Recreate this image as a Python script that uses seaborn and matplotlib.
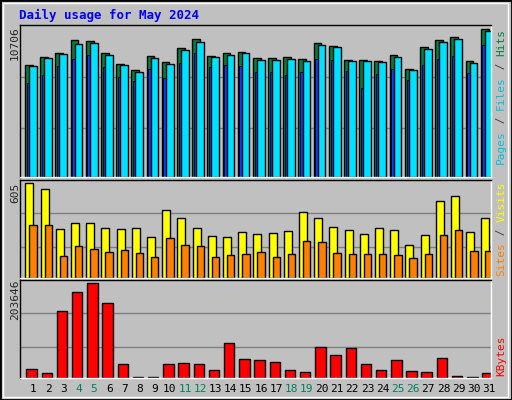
import numpy as np
import matplotlib
matplotlib.use("Agg")
import matplotlib.pyplot as plt
import seaborn as sns
import pandas as pd

days = list(range(1, 32))
weekend = [4, 5, 11, 12, 18, 19, 25, 26]
hits = [8090,8671,8986,9906,9833,8961,8162,7726,8743,8307,9325,9979,8743,8961,9034,8598,8598,8671,8525,9688,9470,8453,8453,8380,8816,7799,9397,9906,10124,8380,10706]
files = [8017,8598,8889,9615,9688,8816,8090,7581,8598,8162,9179,9761,8671,8816,8961,8453,8453,8525,8380,9543,9397,8380,8380,8307,8671,7726,9252,9761,9979,8235,10560]
pages = [6782,7363,8017,8525,8816,7944,7218,6927,7799,7145,8235,8961,7944,8090,8017,7581,7581,7363,7581,8525,8453,7653,6418,7436,7799,7000,8090,8525,8743,7508,9543]
visits = [605,572,316,355,355,322,316,322,263,434,381,322,270,263,296,283,289,302,421,381,329,309,283,322,309,210,276,493,526,296,381]
sites = [342,342,138,204,184,164,178,158,132,256,210,204,132,145,151,164,132,151,237,230,158,151,151,151,145,125,151,276,309,171,171]
kbytes = [18580,9662,143438,183570,203646,161274,29728,2973,2973,29728,31958,29728,16350,74320,40876,38646,34187,16350,11891,65402,49794,63172,29728,16350,38646,14121,11891,43106,5202,2973,9662]

sns.set_style("white")
plt.rcParams['font.family'] = ['DejaVu Sans Mono', 'DejaVu Sans']
GRAY = "#c0c0c0"
fig = plt.figure(figsize=(5.12, 4.0), dpi=100, facecolor=GRAY)
fig.patches.append(plt.Rectangle((0, 0), 1, 1, transform=fig.transFigure, fill=False, edgecolor="black", lw=2))
fig.patches.append(plt.Rectangle((0.006, 0.008), 0.986, 0.985, transform=fig.transFigure, fill=False, edgecolor="white", lw=1))

L, W = 0.039, 0.92
axes = [fig.add_axes([L, 0.5575, W, 0.38]),
        fig.add_axes([L, 0.305, W, 0.245]),
        fig.add_axes([L, 0.055, W, 0.245])]
x = np.arange(31)
kw = dict(edgecolor="black", linewidth=1)

df = pd.DataFrame({"x": x, "hits": hits, "files": files, "pages": pages,
                   "visits": visits, "sites": sites, "kbytes": kbytes})

a = axes[0]
a.bar(df.x - 0.285, df.hits, width=0.51, color="#008040", **kw)
a.bar(df.x - 0.34, df.pages, width=0.18, color="#0040ff", edgecolor="black", linewidth=0.6)
a.bar(df.x - 0.02, df.files, width=0.51, color="#00e0ff", **kw)
a.set_ylim(0, 11021)

a = axes[1]
a.bar(df.x - 0.245, df.visits, width=0.53, color="#ffff00", **kw)
a.bar(df.x, df.sites, width=0.49, color="#ff8000", **kw)
a.set_ylim(0, 627)

a = axes[2]
sns.barplot(data=df, x="x", y="kbytes", native_scale=True, ax=a, color="#ff0000",
            saturation=1, width=0.69, edgecolor="black", linewidth=1)
for p in a.patches:
    p.set_x(p.get_x() - 0.1)
a.set_ylim(0, 209592)

for a in axes:
    a.set_facecolor(GRAY)
    a.set_xlim(-0.87, 30.13)
    y1 = a.get_ylim()[1]
    for f in (0.32, 0.66):
        a.axhline(y1 * f, color="#808080", lw=1, zorder=0)
    a.set_yticks([])
    a.set_xticks([])
    a.set_xlabel(""); a.set_ylabel("")
    for s in ("top", "left"):
        a.spines[s].set_color("black")
    for s in ("bottom", "right"):
        a.spines[s].set_color("white")
    for s in a.spines.values():
        s.set_linewidth(1)

axes[2].set_xticks(x)
axes[2].set_xticklabels([str(d) for d in days], fontsize=8)
for lbl, d in zip(axes[2].get_xticklabels(), days):
    lbl.set_color("#008060" if d in weekend else "black")
axes[2].tick_params(axis="x", length=0, pad=4)

fig.text(0.038, 0.962, "Daily usage for May 2024", color="#0000ff", fontsize=9, fontweight="bold", va="center")
fig.text(0.029, 0.892, "10706", rotation=90, fontsize=8, ha="center", va="center")
fig.text(0.029, 0.517, "605", rotation=90, fontsize=8, ha="center", va="center")
fig.text(0.029, 0.25, "203646", rotation=90, fontsize=8, ha="center", va="center")

def vlabel(parts, ybot):
    prev = fig.text(0.979, ybot, parts[0][0], rotation=90, color=parts[0][1],
                    fontsize=8, ha="center", va="bottom")
    for txt, col in parts[1:]:
        prev = fig.text(0.5, 1.0, txt, rotation=90, color=col, fontsize=8,
                        ha="center", va="bottom", transform=None) if False else \
            axes[0].annotate(txt, xy=(0.5, 1.0), xycoords=prev, rotation=90, color=col,
                             fontsize=8, ha="center", va="bottom", annotation_clip=False)
vlabel([("Pages", "#00c0e0"), (" / ", "#404040"), ("Files", "#00c0e0"), (" / ", "#404040"), ("Hits", "#008040")], 0.59)
vlabel([("Sites", "#ff8000"), (" / ", "#404040"), ("Visits", "#ffff00")], 0.31)
vlabel([("KBytes", "#ff0000")], 0.06)

fig.savefig("out.png", dpi=100, facecolor=GRAY)
